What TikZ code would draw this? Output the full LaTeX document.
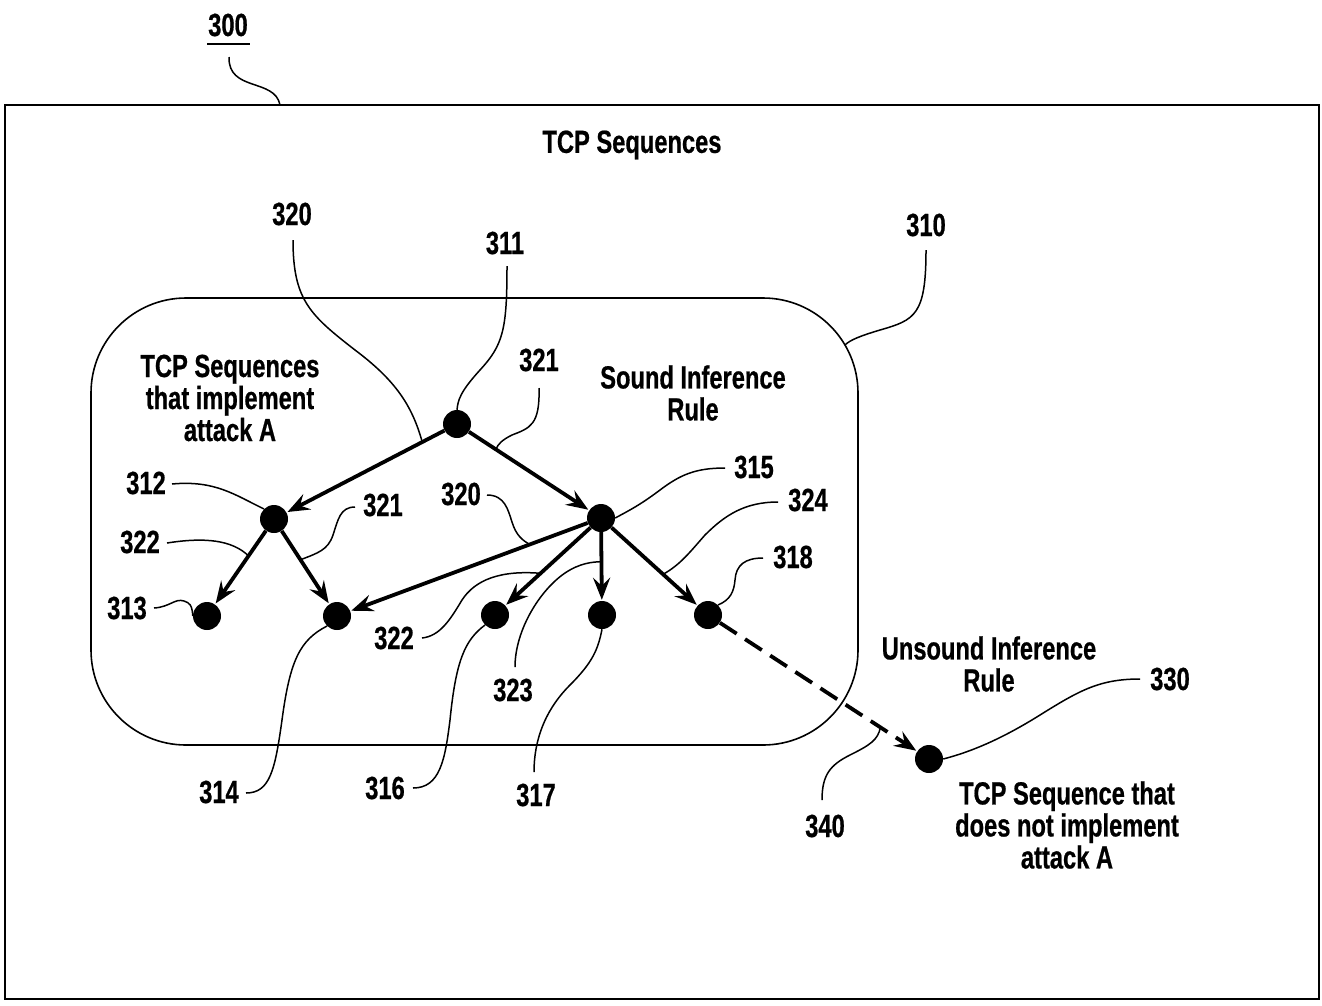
\documentclass[tikz,border=0pt]{standalone}
\usepackage{fontspec}
\setmainfont{Liberation Sans}[FakeStretch=0.74,BoldFeatures={FakeBold=0.6}]
\usetikzlibrary{arrows.meta,calc}
\begin{document}
\begin{tikzpicture}[x=1pt,y=-1pt,
  lbl/.style={font=\fontsize{32}{32}\selectfont\bfseries, inner sep=0pt, align=center},
  dot/.style={circle, fill=black, inner sep=0pt, minimum size=28pt},
  arr/.style={line width=3.8pt, -{Stealth[length=22pt,width=17pt,inset=8pt]}, shorten >=1pt},
  leader/.style={line width=1.5pt}]
\useasboundingbox (0,0) rectangle (1322,1005);
% frame and region
\draw[line width=2.8pt] (5,105) rectangle (1319,999);
\draw[line width=1.6pt, rounded corners=95pt] (91,298) rectangle (858,745);

% texts
\node[lbl] (l300) at (228,25) {300};
\draw[line width=2.4pt] (207,44) -- (250,44);
\node[lbl] (title) at (632,145) {TCP Sequences};
\node[lbl] (tin) at (230,398) {TCP Sequences\\that implement\\attack A};
\node[lbl] (tsound) at (693,393) {Sound Inference\\Rule};
\node[lbl] (tunsound) at (989,664) {Unsound Inference\\Rule};
\node[lbl] (tnot) at (1067,825) {TCP Sequence that\\does not implement\\attack A};

\node[lbl] (l320a) at (292,214) {320};
\node[lbl] (l311) at (505,243) {311};
\node[lbl] (l321a) at (539,360) {321};
\node[lbl] (l310) at (926,225) {310};
\node[lbl] (l312) at (146,483) {312};
\node[lbl] (l322a) at (140,542) {322};
\node[lbl] (l313) at (127,608) {313};
\node[lbl] (l321b) at (383,505) {321};
\node[lbl] (l320b) at (461,494) {320};
\node[lbl] (l315) at (754,467) {315};
\node[lbl] (l324) at (808,500) {324};
\node[lbl] (l318) at (793,557) {318};
\node[lbl] (l322b) at (394,638) {322};
\node[lbl] (l323) at (513,690) {323};
\node[lbl] (l314) at (219,792) {314};
\node[lbl] (l316) at (385,788) {316};
\node[lbl] (l317) at (536,795) {317};
\node[lbl] (l330) at (1170,679) {330};
\node[lbl] (l340) at (825,826) {340};

% dots
\node[dot] (n311) at (457,424) {};
\node[dot] (n312) at (274,519) {};
\node[dot] (n313) at (207,616) {};
\node[dot] (n314) at (337,616) {};
\node[dot] (n315) at (601,518) {};
\node[dot] (n316) at (495,615) {};
\node[dot] (n317) at (602,615) {};
\node[dot] (n318) at (708,615) {};
\node[dot] (n330) at (929,759) {};

% arrows
\draw[arr] (n311) -- (n312);
\draw[arr] (n311) -- (n315);
\draw[arr] (n312) -- (n313);
\draw[arr] (n312) -- (n314);
\draw[arr] (n315) -- (n314);
\draw[arr] (n315) -- (n316);
\draw[arr] (n315) -- (n317);
\draw[arr] (n315) -- (n318);
\draw[arr, dash pattern=on 20pt off 10pt] (n318) -- (n330);

% leader end points
\coordinate (e300) at (280,105);
\coordinate (e320a) at ($(n311)!0.19!(n312)$);
\coordinate (e321a) at ($(n311)!0.27!(n315)$);
\coordinate (e310) at (845,345);
\coordinate (e322a) at ($(n312)!0.38!(n313)$);
\coordinate (e321b) at ($(n312)!0.42!(n314)$);
\coordinate (e320b) at ($(n315)!0.27!(n314)$);
\coordinate (e324) at ($(n315)!0.58!(n318)$);
\coordinate (e322b) at ($(n315)!0.57!(n316)$);
\coordinate (e323) at ($(n315)!0.45!(n317)$);
\coordinate (e340) at ($(n318)!0.78!(n330)$);

% leaders
\draw[leader] (229,57) .. controls (228,92) and (275,78) .. (e300);
\draw[leader] (293,240) .. controls (293,300) and (310,315) .. (355,350) .. controls (395,380) and (412,405) .. (e320a);
\draw[leader] (507,266) .. controls (507,330) and (503,345) .. (480,370) .. controls (460,392) and (458,400) .. (n311.north);
\draw[leader] (539,388) .. controls (540,425) and (530,428) .. (512,435) .. controls (502,440) and (498,444) .. (e321a);
\draw[leader] (926,250) .. controls (926,315) and (915,320) .. (880,330) .. controls (860,336) and (850,340) .. (e310);
\draw[leader] (172,484) .. controls (215,480) and (235,495) .. (n312.north west);
\draw[leader] (167,543) .. controls (205,537) and (232,540) .. (e322a);
\draw[leader] (154,608) .. controls (170,607) and (175,598) .. (184,601) .. controls (190,603) and (192,605) .. (n313.west);
\draw[leader] (355,507) .. controls (340,507) and (338,520) .. (333,535) .. controls (328,550) and (318,553) .. (e321b);
\draw[leader] (487,495) .. controls (505,495) and (508,510) .. (512,522) .. controls (516,535) and (522,540) .. (e320b);
\draw[leader] (725,468) .. controls (695,468) and (680,475) .. (660,490) .. controls (640,505) and (630,510) .. (n315.east);
\draw[leader] (778,502) .. controls (745,502) and (725,515) .. (705,535) .. controls (690,552) and (680,565) .. (e324);
\draw[leader] (763,558) .. controls (745,558) and (736,565) .. (735,580) .. controls (734,592) and (730,600) .. (n318.north east);
\draw[leader] (422,638) .. controls (440,636) and (450,620) .. (462,600) .. controls (475,580) and (500,570) .. (e322b);
\draw[leader] (515,667) .. controls (515,630) and (540,590) .. (565,573) .. controls (580,563) and (592,562) .. (e323);
\draw[leader] (246,793) .. controls (270,793) and (275,770) .. (282,720) .. controls (290,660) and (300,640) .. (n314.south west);
\draw[leader] (413,788) .. controls (440,788) and (445,760) .. (450,720) .. controls (456,660) and (465,640) .. (n316.south west);
\draw[leader] (534,772) .. controls (534,740) and (545,710) .. (570,685) .. controls (592,663) and (598,650) .. (n317.south);
\draw[leader] (1140,679) .. controls (1100,679) and (1080,690) .. (1040,715) .. controls (1000,740) and (970,752) .. (n330.east);
\draw[leader] (822,800) .. controls (822,775) and (830,765) .. (850,755) .. controls (870,745) and (878,740) .. (e340);
\end{tikzpicture}
\end{document}
